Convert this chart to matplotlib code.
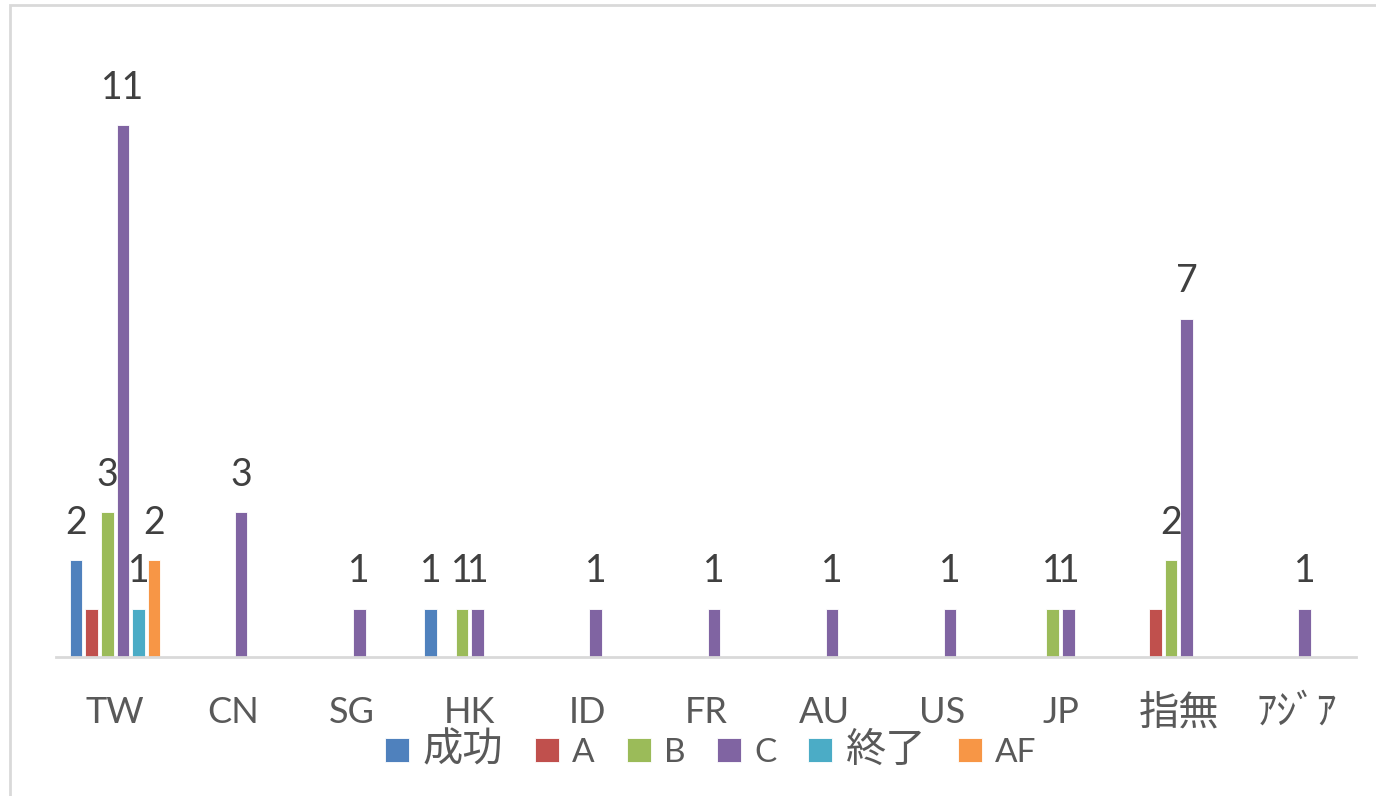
import matplotlib
matplotlib.use("Agg")
import matplotlib.pyplot as plt
from matplotlib.patches import Rectangle
import numpy as np

plt.rcParams['font.family'] = ['Lato', 'Noto Sans CJK JP', 'DejaVu Sans']

categories = ["TW", "CN", "SG", "HK", "ID", "FR", "AU", "US", "JP", "指無", "ｱｼﾞｱ"]
series_names = ["成功", "A", "B", "C", "終了", "AF"]

seikou = [2, 0, 0, 1, 0, 0, 0, 0, 0, 0, 0]
a_vals = [1, 0, 0, 0, 0, 0, 0, 0, 0, 1, 0]
b_vals = [3, 0, 0, 1, 0, 0, 0, 0, 1, 2, 0]
c_vals = [11, 3, 1, 1, 1, 1, 1, 1, 1, 7, 1]
shuryo = [1, 0, 0, 0, 0, 0, 0, 0, 0, 0, 0]
af_vals = [2, 0, 0, 0, 0, 0, 0, 0, 0, 0, 0]

series_values = [seikou, a_vals, b_vals, c_vals, shuryo, af_vals]
colors = ["#4F81BD", "#C0504D", "#9BBB59", "#8064A2", "#4BACC6", "#F79646"]
show_labels = [True, False, True, True, True, True]


def is_cjk(s):
    return any(ord(ch) > 0x2E80 for ch in s)


fig = plt.figure(figsize=(13.76, 7.96), dpi=100)
fig.patch.set_facecolor("white")

# chart-area frame
fig.add_artist(Rectangle((10 / 1376, -0.1), 1.2, 1 - 5 / 796 + 0.1,
                         transform=fig.transFigure, fill=False,
                         edgecolor="#D9D9D9", linewidth=2))

ax = fig.add_axes([56 / 1376, 1 - 657 / 796, (1356 - 56) / 1376, (657 - 77) / 796])

x = np.arange(len(categories))
step = 0.132
width = 0.106
n = len(series_values)

for i, (name, vals, col, lab) in enumerate(zip(series_names, series_values, colors, show_labels)):
    offs = (i - (n - 1) / 2) * step
    vals = np.array(vals, dtype=float)
    mask = vals > 0
    ax.bar(x[mask] + offs, vals[mask], width=width, color=col,
           edgecolor="white", linewidth=0.6, label=name, zorder=2)
    if lab:
        for xi, v in zip(x[mask] + offs, vals[mask]):
            ax.annotate(f"{int(v)}", (xi, v), xytext=(0, 14),
                        textcoords="offset points", ha="center", va="bottom",
                        fontsize=27, color="#404040")

ax.set_xlim(-0.5, len(categories) - 0.5)
ax.set_ylim(0, 12)
ax.set_yticks([])
ax.set_xticks(x)
ax.set_xticklabels(categories, color="#595959")
ax.tick_params(axis="x", length=0, pad=40)
for t in ax.get_xticklabels():
    t.set_fontsize(29 if is_cjk(t.get_text()) else 26)
    t.set_va("center")
for s in ["top", "right", "left"]:
    ax.spines[s].set_visible(False)
ax.spines["bottom"].set_color("#D9D9D9")
ax.spines["bottom"].set_linewidth(2)
ax.set_facecolor("none")

leg = fig.legend(loc="center", bbox_to_anchor=(711 / 1376, 1 - 750 / 796),
                 ncol=6, frameon=False, fontsize=24, handlelength=0.72,
                 handleheight=0.72, handletextpad=0.4, columnspacing=0.95,
                 labelcolor="#595959")
for t in leg.get_texts():
    if is_cjk(t.get_text()):
        t.set_fontsize(29)

fig.savefig("out.png", dpi=100, facecolor="white")
